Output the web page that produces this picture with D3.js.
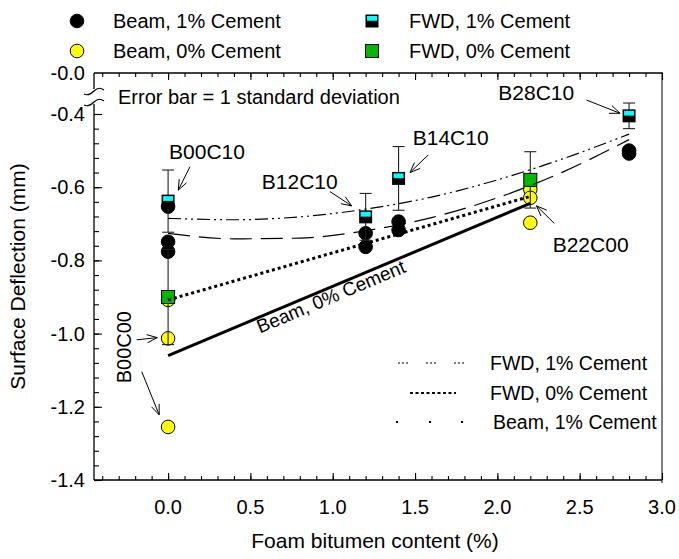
<!DOCTYPE html>
<html>
<head>
<meta charset="utf-8">
<script src="https://cdn.jsdelivr.net/npm/d3@7"></script>
<style>
  html, body { margin: 0; padding: 0; background: #fff; }
  svg { display: block; font-family: "Liberation Sans", Arial, Helvetica, sans-serif; }
</style>
</head>
<body>
<svg id="chart" width="679" height="559"></svg>
<script>
// Foam bitumen content (%) of each measurement and the surface deflection (mm)
const beam1X = [0, 0, 0, 1.2, 1.2, 1.4, 1.4, 2.8, 2.8];
const beam1Y = [-0.653, -0.749, -0.776, -0.726, -0.763, -0.694, -0.717, -0.500, -0.508];

const beam0X = [0, 0, 0, 2.2, 2.2, 2.2];
const beam0Y = [-0.908, -1.013, -1.255, -0.606, -0.629, -0.697];

const fwd1X = [0, 1.2, 1.4, 2.8];
const fwd1Y = [-0.638, -0.681, -0.576, -0.405];
const fwd1SD = [0.085, 0.064, 0.087, 0.035];

const fwd0X = [0, 2.2];
const fwd0Y = [-0.900, -0.580];
const fwd0SD = [0.130, 0.077];

// Fitted trend lines
const fitFwd1X = [0, 0.4, 0.8, 1.2, 1.6, 2.0, 2.4, 2.8];
const fitFwd1Y = [-0.685, -0.689, -0.681, -0.660, -0.627, -0.580, -0.522, -0.455];
const fitBeam1X = [0, 0.4, 0.8, 1.2, 1.6, 2.0, 2.4, 2.8];
const fitBeam1Y = [-0.726, -0.741, -0.739, -0.719, -0.683, -0.629, -0.558, -0.470];
const fitFwd0X = [0, 2.2];
const fitFwd0Y = [-0.908, -0.625];
const fitBeam0X = [0, 2.2];
const fitBeam0Y = [-1.060, -0.644];

// Axis ticks
const xMajor = [0, 0.5, 1.0, 1.5, 2.0, 2.5, 3.0];
const xMinor = d3.range(-4, 30).map(i => i / 10);
const yMajor = [-0.4, -0.6, -0.8, -1.0, -1.2, -1.4];
const yMinor = d3.range(0, 26).map(i => -0.4 - i * 0.04);
const yTopLabel = "-0.0";

// Section labels with arrows (data coordinates)
const sections = [
  { text: "B00C10", tx: 0.006, ty: -0.524, a: [0.133, -0.544, 0.062, -0.608] },
  { text: "B12C10", tx: 0.569, ty: -0.605, a: [0.983, -0.612, 1.115, -0.651] },
  { text: "B14C10", tx: 1.486, ty: -0.485, a: [1.580, -0.512, 1.469, -0.560] },
  { text: "B28C10", tx: 2.006, ty: -0.362, a: [2.542, -0.362, 2.745, -0.398] },
  { text: "B22C00", tx: 2.336, ty: -0.776, a: [2.346, -0.699, 2.238, -0.651] }
];
const b00c00 = { text: "B00C00", tx: -0.226, ty: -1.037,
  arrows: [[-0.191, -1.017, -0.066, -1.011], [-0.160, -1.104, -0.054, -1.222]] };

const svg = d3.select("#chart");
const L = 94, R = 662, T = 73, B = 480;
const x = d3.scaleLinear().domain([-0.45, 3.0]).range([L, R]);
const y = d3.scaleLinear().domain([-1.4, -0.4]).range([B, 114]);

svg.append("rect").attr("width", 679).attr("height", 559).attr("fill", "#fff");

// ---- frame & ticks ----
const frame = svg.append("g");
frame.append("line").attr("x1", R).attr("x2", R).attr("y1", T - 1).attr("y2", B + 3)
  .attr("stroke", "#808080").attr("stroke-width", 2);
frame.append("line").attr("x1", L).attr("x2", R).attr("y1", B).attr("y2", B)
  .attr("stroke", "#000").attr("stroke-width", 1.3);
frame.append("line").attr("x1", L).attr("x2", R).attr("y1", T).attr("y2", T)
  .attr("stroke", "#000").attr("stroke-width", 1.3);
// left axis with a break below the top label
frame.append("line").attr("x1", L).attr("x2", L).attr("y1", T).attr("y2", 89)
  .attr("stroke", "#000").attr("stroke-width", 1.3);
frame.append("line").attr("x1", L).attr("x2", L).attr("y1", 104).attr("y2", B)
  .attr("stroke", "#000").attr("stroke-width", 1.3);
[91, 102].forEach(yy => {
  frame.append("path")
    .attr("d", `M${L - 10},${yy + 3} C${L - 6},${yy + 5} ${L - 3},${yy + 3} ${L},${yy} C${L + 3},${yy - 3} ${L + 6},${yy - 4} ${L + 10},${yy - 1}`)
    .attr("fill", "none").attr("stroke", "#000").attr("stroke-width", 1.1);
});

const xAxisB = d3.axisBottom(x).tickValues(xMinor).tickSize(-4).tickFormat("");
const xAxisBMaj = d3.axisBottom(x).tickValues(xMajor).tickSize(-7).tickFormat("");
[xAxisB, xAxisBMaj].forEach(ax => {
  const g = frame.append("g").attr("transform", `translate(0,${B})`).call(ax);
  g.select(".domain").remove();
  g.selectAll("line").attr("stroke-width", 1.1);
});
const xAxisT = d3.axisTop(x).tickValues(xMinor).tickSize(-4).tickFormat("");
const xAxisTMaj = d3.axisTop(x).tickValues(xMajor).tickSize(-7).tickFormat("");
[xAxisT, xAxisTMaj].forEach(ax => {
  const g = frame.append("g").attr("transform", `translate(0,${T})`).call(ax);
  g.select(".domain").remove();
  g.selectAll("line").attr("stroke-width", 1.1);
});
const yAxisMin = d3.axisLeft(y).tickValues(yMinor).tickSize(-5).tickFormat("");
const yAxisMaj = d3.axisLeft(y).tickValues(yMajor).tickSize(-8).tickFormat("");
[yAxisMin, yAxisMaj].forEach(ax => {
  const g = frame.append("g").attr("transform", `translate(${L},0)`).call(ax);
  g.select(".domain").remove();
  g.selectAll("line").attr("stroke-width", 1.1);
});

// tick labels
svg.append("g").selectAll("text").data(xMajor).join("text")
  .attr("x", d => x(d)).attr("y", B + 34).attr("text-anchor", "middle")
  .attr("font-size", 20).text(d => d.toFixed(1));
svg.append("g").selectAll("text").data(yMajor).join("text")
  .attr("x", L - 9).attr("y", d => y(d) + 7).attr("text-anchor", "end")
  .attr("font-size", 20).text(d => d.toFixed(1));
svg.append("text").attr("x", L - 9).attr("y", T + 7).attr("text-anchor", "end")
  .attr("font-size", 20).text(yTopLabel);

// axis titles
svg.append("text").attr("x", (L + R) / 2 - 3).attr("y", 548).attr("text-anchor", "middle")
  .attr("font-size", 21).text("Foam bitumen content (%)");
svg.append("text").attr("transform", `translate(25,${(T + B) / 2}) rotate(-90)`)
  .attr("text-anchor", "middle").attr("font-size", 21).text("Surface Deflection (mm)");

svg.append("text").attr("x", 118).attr("y", 104).attr("font-size", 20)
  .text("Error bar = 1 standard deviation");

// ---- markers ----
const R_C = 6.8, S_Q = 13;
function circle(g, cx, cy, fill) {
  g.append("circle").attr("cx", cx).attr("cy", cy).attr("r", R_C)
    .attr("fill", fill).attr("stroke", "#000").attr("stroke-width", 1);
}
function fwd1Marker(g, cx, cy) {
  g.append("rect").attr("x", cx - S_Q / 2).attr("y", cy - S_Q / 2).attr("width", S_Q).attr("height", S_Q)
    .attr("fill", "#000");
  g.append("rect").attr("x", cx - S_Q / 2 + 1.5).attr("y", cy - S_Q / 2 + 1.5).attr("width", S_Q - 3).attr("height", 4.8)
    .attr("fill", "#00ffff");
}
function fwd0Marker(g, cx, cy) {
  g.append("rect").attr("x", cx - S_Q / 2).attr("y", cy - S_Q / 2).attr("width", S_Q).attr("height", S_Q)
    .attr("fill", "#00b800").attr("stroke", "#000").attr("stroke-width", 1);
}
function errorBar(g, cx, cy, sd) {
  const y1 = y(cy + sd), y2 = y(cy - sd), px = x(cx);
  g.append("line").attr("x1", px).attr("x2", px).attr("y1", y1).attr("y2", y2)
    .attr("stroke", "#222").attr("stroke-width", 1.1);
  [y1, y2].forEach(v => g.append("line").attr("x1", px - 6).attr("x2", px + 6).attr("y1", v).attr("y2", v)
    .attr("stroke", "#222").attr("stroke-width", 1.1));
}

const marks = svg.append("g");
beam1X.forEach((d, i) => circle(marks, x(d), y(beam1Y[i]), "#000"));
beam0X.forEach((d, i) => circle(marks, x(d), y(beam0Y[i]), "#ffff00"));
fwd1X.forEach((d, i) => { errorBar(marks, d, fwd1Y[i], fwd1SD[i]); });
fwd1X.forEach((d, i) => fwd1Marker(marks, x(d), y(fwd1Y[i])));
fwd0X.forEach((d, i) => { errorBar(marks, d, fwd0Y[i], fwd0SD[i]); fwd0Marker(marks, x(d), y(fwd0Y[i])); });

// ---- fitted lines ----
const line = d3.line().x(d => x(d[0])).y(d => y(d[1])).curve(d3.curveMonotoneX);
const fits = svg.append("g").attr("fill", "none").attr("stroke", "#000");
fits.append("path").datum(fitFwd1X.map((d, i) => [d, fitFwd1Y[i]])).attr("d", line)
  .attr("stroke-width", 1.2).attr("stroke-dasharray", "13,4,2,4,2,4");
fits.append("path").datum(fitBeam1X.map((d, i) => [d, fitBeam1Y[i]])).attr("d", line)
  .attr("stroke-width", 1.2).attr("stroke-dasharray", "22,9");
fits.append("path").datum(fitFwd0X.map((d, i) => [d, fitFwd0Y[i]])).attr("d", line)
  .attr("stroke-width", 3).attr("stroke-dasharray", "3,3");
fits.append("path").datum(fitBeam0X.map((d, i) => [d, fitBeam0Y[i]])).attr("d", line)
  .attr("stroke-width", 3);

// label along the Beam, 0% Cement line
const ang = Math.atan2(y(fitBeam0Y[1]) - y(fitBeam0Y[0]), x(fitBeam0X[1]) - x(fitBeam0X[0])) * 180 / Math.PI;
svg.append("text").attr("transform", `translate(${x(0.558)},${y(-1.0)}) rotate(${ang})`)
  .attr("font-size", 19).text("Beam, 0% Cement");

// ---- section labels and arrows ----
function arrow(g, x1, y1, x2, y2) {
  const X1 = x(x1), Y1 = y(y1), X2 = x(x2), Y2 = y(y2);
  g.append("line").attr("x1", X1).attr("y1", Y1).attr("x2", X2).attr("y2", Y2)
    .attr("stroke", "#000").attr("stroke-width", 1);
  const a = Math.atan2(Y2 - Y1, X2 - X1), len = 11, spread = 0.38;
  [a + Math.PI - spread, a + Math.PI + spread].forEach(b => {
    g.append("line").attr("x1", X2).attr("y1", Y2)
      .attr("x2", X2 + len * Math.cos(b)).attr("y2", Y2 + len * Math.sin(b))
      .attr("stroke", "#000").attr("stroke-width", 1);
  });
}
const ann = svg.append("g");
sections.forEach(s => {
  ann.append("text").attr("x", x(s.tx)).attr("y", y(s.ty)).attr("font-size", 21).text(s.text);
  arrow(ann, ...s.a);
});
ann.append("text").attr("transform", `translate(${x(b00c00.tx)},${y(b00c00.ty)}) rotate(-90)`)
  .attr("text-anchor", "middle").attr("font-size", 20).text(b00c00.text);
b00c00.arrows.forEach(a => arrow(ann, ...a));

// ---- legend (markers) ----
const leg = svg.append("g");
circle(leg, 77, 21, "#000");
circle(leg, 77, 51, "#ffff00");
fwd1Marker(leg, 372, 21);
fwd0Marker(leg, 372, 51);
[["Beam, 1% Cement", 113, 21], ["Beam, 0% Cement", 113, 51],
 ["FWD, 1% Cement", 409, 21], ["FWD, 0% Cement", 409, 51]].forEach(([t, lx, ly]) => {
  leg.append("text").attr("x", lx).attr("y", ly + 7).attr("font-size", 20).text(t);
});

// ---- legend (fitted lines) ----
const leg2 = svg.append("g");
leg2.append("line").attr("x1", 398).attr("x2", 466).attr("y1", 363).attr("y2", 363)
  .attr("stroke", "#000").attr("stroke-width", 1).attr("stroke-dasharray", "2,2,2,2,2,18");
leg2.append("line").attr("x1", 410).attr("x2", 456).attr("y1", 393).attr("y2", 393)
  .attr("stroke", "#000").attr("stroke-width", 2.2).attr("stroke-dasharray", "3,2.5");
[397, 430, 462].forEach(px => leg2.append("rect").attr("x", px - 1).attr("y", 421).attr("width", 2).attr("height", 2).attr("fill", "#000"));
[["FWD, 1% Cement", 490, 363], ["FWD, 0% Cement", 490, 393], ["Beam, 1% Cement", 493, 422]].forEach(([t, lx, ly]) => {
  leg2.append("text").attr("x", lx).attr("y", ly + 7).attr("font-size", 19.5).text(t);
});
</script>
</body>
</html>
